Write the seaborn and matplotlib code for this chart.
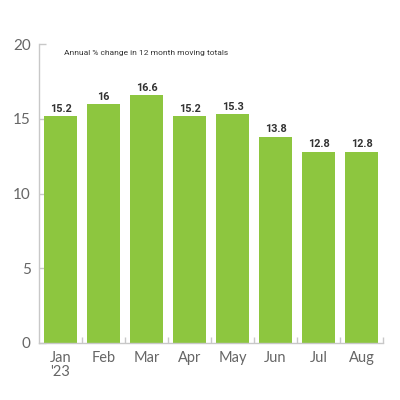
import matplotlib
matplotlib.use("Agg")
import matplotlib.pyplot as plt
import seaborn as sns
import pandas as pd
import numpy as np

months = ["Jan\n'23", "Feb", "Mar", "Apr", "May", "Jun", "Jul", "Aug"]
values = [15.2, 16, 16.6, 15.2, 15.3, 13.8, 12.8, 12.8]
value_labels = ["15.2", "16", "16.6", "15.2", "15.3", "13.8", "12.8", "12.8"]
title_text = "Annual % change in 12 month moving totals"
y_ticks = [0, 5, 10, 15, 20]

sns.set_style("white")
plt.rcParams['font.family'] = ['Lato', 'DejaVu Sans']

df = pd.DataFrame({"month": months, "value": values})

fig = plt.figure(figsize=(4, 4), dpi=100)
ax = fig.add_axes([0.0975, 0.1425, 0.86, 0.7475])
sns.barplot(data=df, x="month", y="value", color="#8dc63f", saturation=1,
            width=0.79, ax=ax, edgecolor="none")

ax.set_xlim(-0.5, 7.5)
ax.set_ylim(0, 20)
ax.set_yticks(y_ticks)
ax.set_xlabel("")
ax.set_ylabel("")

for s in ["top", "right"]:
    ax.spines[s].set_visible(False)
for s in ["left", "bottom"]:
    ax.spines[s].set_color("#c8c8c8")
    ax.spines[s].set_linewidth(1.0)

ax.tick_params(axis="y", direction="in", length=5, width=1, color="#c8c8c8",
               labelsize=11, labelcolor="#666666", pad=6, left=True)
ax.tick_params(axis="x", length=0, labelsize=10.5, labelcolor="#666666", pad=6)
for t in ax.get_yticklabels() + ax.get_xticklabels():
    t.set_fontweight("normal")
    t.set_linespacing(1.0)

ax.set_xticks(np.arange(8) + 0.5, minor=True)
ax.tick_params(axis="x", which="minor", direction="in", length=4, width=1,
               color="#c8c8c8", bottom=True)

for i, (v, lab) in enumerate(zip(values, value_labels)):
    ax.text(i, v + 0.15, lab, ha="center", va="bottom", fontsize=7.8,
            fontweight="bold", color="#333333", fontstretch="condensed",
            family=["Roboto", "DejaVu Sans"])

ax.text(0.08, 19.4, title_text, ha="left", va="center", fontsize=6,
        color="#333333", fontstretch="condensed",
        family=["Roboto", "DejaVu Sans"])

fig.savefig("out.png", dpi=100, facecolor="white")
